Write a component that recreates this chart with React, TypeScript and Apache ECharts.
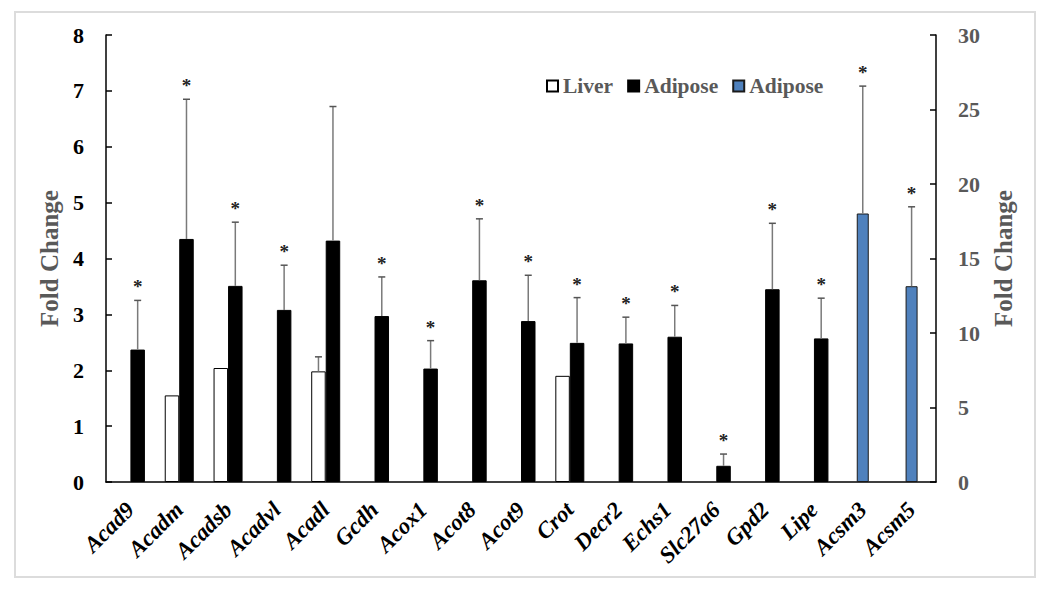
import React, { useEffect, useRef } from "react";
import * as echarts from "echarts";

const categories = ["Acad9", "Acadm", "Acadsb", "Acadvl", "Acadl", "Gcdh", "Acox1", "Acot8", "Acot9", "Crot", "Decr2", "Echs1", "Slc27a6", "Gpd2", "Lipe", "Acsm3", "Acsm5"];
const liver = [null, 1.55, 2.04, null, 1.98, null, null, null, null, 1.9, null, null, null, null, null, null, null];
const liverSd = [null, null, null, null, 0.26, null, null, null, null, null, null, null, null, null, null, null, null];
const adipose = [2.37, 4.35, 3.51, 3.08, 4.32, 2.97, 2.03, 3.61, 2.88, 2.49, 2.48, 2.6, 0.29, 3.45, 2.57, null, null];
const adiposeSd = [0.88, 2.5, 1.14, 0.8, 2.4, 0.7, 0.5, 1.1, 0.82, 0.81, 0.47, 0.56, 0.21, 1.18, 0.72, null, null];
const adiposeSig = [1, 1, 1, 1, 0, 1, 1, 1, 1, 1, 1, 1, 1, 1, 1, 0, 0];
const adiposeRight = [null, null, null, null, null, null, null, null, null, null, null, null, null, null, null, 18.02, 13.14];
const adiposeRightSd = [null, null, null, null, null, null, null, null, null, null, null, null, null, null, null, 8.55, 5.33];
const adiposeRightSig = [0, 0, 0, 0, 0, 0, 0, 0, 0, 0, 0, 0, 0, 0, 0, 1, 1];
const leftTicks = [0, 8, 1];
const rightTicks = [0, 30, 5];

const FONT = "'Liberation Serif', 'Times New Roman', serif";
const BAR_W = 14.5;

function errData(vals: (number | null)[], sds: (number | null)[], sig: number[] | null) {
  const out: any[] = [];
  vals.forEach((v, i) => {
    if (v == null || sds[i] == null) return;
    out.push([i, v, v + (sds[i] as number), sig ? sig[i] : 0]);
  });
  return out;
}

function makeRender(offset: number) {
  return (params: any, api: any) => {
    const i = api.value(0);
    const base = api.coord([i, api.value(1)]);
    const top = api.coord([i, api.value(2)]);
    const x = base[0] + offset;
    const children: any[] = [
      { type: "line", shape: { x1: x, y1: base[1], x2: x, y2: top[1] }, style: { stroke: "#7a7a7a", lineWidth: 1.5 } },
      { type: "line", shape: { x1: x - 3.5, y1: top[1], x2: x + 3.5, y2: top[1] }, style: { stroke: "#555", lineWidth: 1.5 } },
    ];
    if (api.value(3) === 1) {
      children.push({
        type: "text",
        style: { text: "*", x: x, y: top[1] - 4, align: "center", verticalAlign: "bottom", fontFamily: FONT, fontWeight: "bold", fontSize: 19, fill: "#222" },
      });
    }
    return { type: "group", children };
  };
}

export default function App() {
  const ref = useRef<HTMLDivElement>(null);
  useEffect(() => {
    const chart = echarts.init(ref.current!, null, { renderer: "svg" });
    chart.setOption({
      animation: false,
      backgroundColor: "#fff",
      graphic: [
        { type: "rect", shape: { x: 15, y: 12, width: 1020, height: 565 }, style: { fill: "none", stroke: "#dcdcdc", lineWidth: 2 }, silent: true },
      ],
      legend: {
        left: 541,
        top: 70,
        itemWidth: 11,
        itemHeight: 11,
        itemGap: 14,
        icon: "rect",
        data: ["Liver", "Adipose", "Adipose2"],
        formatter: (n: string) => (n === "Adipose2" ? "Adipose" : n),
        textStyle: { fontFamily: FONT, fontWeight: "bold", fontSize: 21.5, color: "#595959" },
      },
      grid: { left: 106, right: 114, top: 35, bottom: 109 },
      xAxis: [
        {
          type: "category",
          data: categories,
          axisLine: { lineStyle: { color: "#000", width: 1.5 } },
          axisTick: { show: false },
          axisLabel: { interval: 0, rotate: 45, margin: 24, fontFamily: FONT, fontStyle: "italic", fontWeight: "bold", fontSize: 23, color: "#000" },
        },
        { type: "category", data: categories, show: false },
      ],
      yAxis: [
        {
          type: "value",
          min: leftTicks[0],
          max: leftTicks[1],
          interval: leftTicks[2],
          name: "Fold Change",
          nameLocation: "middle",
          nameGap: 41,
          nameTextStyle: { fontFamily: FONT, fontWeight: "bold", fontSize: 25, color: "#595959" },
          axisLine: { show: true, lineStyle: { color: "#000", width: 1.5 } },
          axisTick: { show: true, inside: true, length: 6, lineStyle: { color: "#000", width: 1.5 } },
          splitLine: { show: false },
          axisLabel: { margin: 22, fontFamily: FONT, fontWeight: "bold", fontSize: 22, color: "#000" },
        },
        {
          type: "value",
          min: rightTicks[0],
          max: rightTicks[1],
          interval: rightTicks[2],
          position: "right",
          name: "Fold Change",
          nameLocation: "middle",
          nameGap: 53,
          nameRotate: 90,
          nameTextStyle: { fontFamily: FONT, fontWeight: "bold", fontSize: 25, color: "#595959" },
          axisLine: { show: true, lineStyle: { color: "#000", width: 1.5 } },
          axisTick: { show: true, inside: true, length: 6, lineStyle: { color: "#000", width: 1.5 } },
          splitLine: { show: false },
          axisLabel: { margin: 22, fontFamily: FONT, fontWeight: "bold", fontSize: 22, color: "#595959" },
        },
      ],
      series: [
        {
          name: "Liver",
          type: "bar",
          xAxisIndex: 0,
          yAxisIndex: 0,
          data: liver,
          barWidth: BAR_W,
          barGap: "0%",
          itemStyle: { color: "#fff", borderColor: "#000", borderWidth: 1 },
        },
        {
          name: "Adipose",
          type: "bar",
          xAxisIndex: 0,
          yAxisIndex: 0,
          data: adipose,
          barWidth: BAR_W,
          barGap: "0%",
          itemStyle: { color: "#000", borderColor: "#000", borderWidth: 1 },
        },
        {
          name: "Adipose2",
          type: "bar",
          xAxisIndex: 1,
          yAxisIndex: 1,
          data: adiposeRight,
          barWidth: 12,
          itemStyle: { color: "#4f81bd", borderColor: "#1a1a1a", borderWidth: 1 },
        },
        { type: "custom", xAxisIndex: 0, yAxisIndex: 0, renderItem: makeRender(-BAR_W / 2), data: errData(liver, liverSd, null), z: 5 },
        { type: "custom", xAxisIndex: 0, yAxisIndex: 0, renderItem: makeRender(BAR_W / 2), data: errData(adipose, adiposeSd, adiposeSig), z: 5 },
        { type: "custom", xAxisIndex: 1, yAxisIndex: 1, renderItem: makeRender(0), data: errData(adiposeRight, adiposeRightSd, adiposeRightSig), z: 5 },
      ],
    });
    return () => chart.dispose();
  }, []);
  return <div ref={ref} style={{ position: "fixed", left: 0, top: 0, width: 1050, height: 591 }} />;
}
